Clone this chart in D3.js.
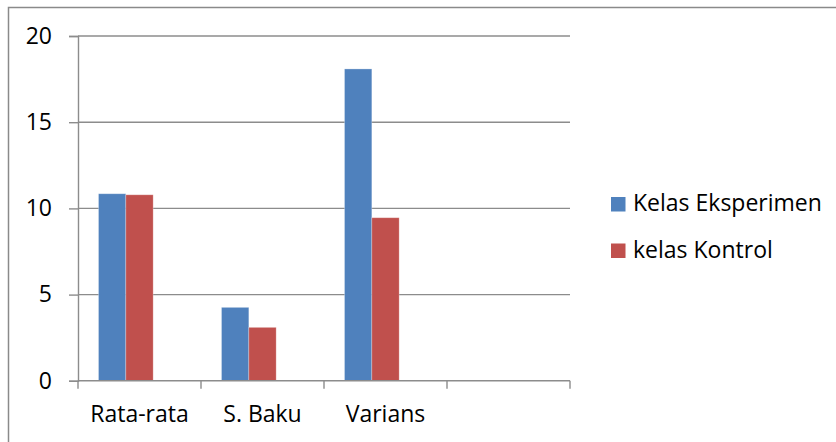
<!DOCTYPE html>
<html>
<head>
<meta charset="utf-8">
<script src="https://cdn.jsdelivr.net/npm/d3@7"></script>
<style>
  html, body { margin: 0; padding: 0; background: #fff; }
  svg text { font-family: "Open Sans", Lato, sans-serif; fill: #000; }
</style>
</head>
<body>
<svg id="chart" width="836" height="442"></svg>
<script>
// Category labels along the x axis (the fourth slot is left blank)
const categories = ["Rata-rata", "S. Baku", "Varians", ""];
// Series names as shown in the legend
const seriesNames = ["Kelas Eksperimen", "kelas Kontrol"];
// Values per category, one array per series
const eksperimen = [10.85, 4.26, 18.09, null];
const kontrol    = [10.79, 3.10, 9.46, null];
// Y axis tick values
const yTicks = [0, 5, 10, 15, 20];

const colors = ["#4F81BD", "#C0504D"];
const seriesValues = [eksperimen, kontrol];
const fontSize = 23;

const svg = d3.select("#chart");

// Outer chart frame
svg.append("rect")
  .attr("x", 8.5).attr("y", 7.5)
  .attr("width", 840).attr("height", 450)
  .attr("fill", "none").attr("stroke", "#8a8a8a").attr("stroke-width", 1.5);

const plot = { left: 78, right: 570, top: 36, bottom: 380.8 };

const x0 = d3.scaleBand()
  .domain(categories.map((c, i) => i))
  .range([plot.left, plot.right])
  .padding(0);

// Three slots per category; the last one stays empty
const slots = [0, 1, 2];
const x1 = d3.scaleBand()
  .domain(slots)
  .range([0, x0.bandwidth()])
  .paddingInner(0)
  .paddingOuter(0.75);

const y = d3.scaleLinear().domain([0, 20]).range([plot.bottom, plot.top]);

// Horizontal gridlines
svg.append("g")
  .selectAll("line")
  .data(yTicks.filter(t => t > 0))
  .join("line")
  .attr("x1", plot.left).attr("x2", plot.right)
  .attr("y1", d => y(d)).attr("y2", d => y(d))
  .attr("stroke", "#8c8c8c").attr("stroke-width", 1.4);

// Y axis
const yAxis = svg.append("g")
  .attr("transform", `translate(${plot.left},0)`)
  .call(d3.axisLeft(y).tickValues(yTicks).tickSize(9).tickPadding(17).tickFormat(d3.format("d")));
yAxis.select(".domain").attr("stroke", "#8c8c8c").attr("stroke-width", 1.4);
yAxis.selectAll(".tick line").attr("stroke", "#8c8c8c").attr("stroke-width", 1.4);
yAxis.selectAll(".tick text")
  .attr("font-size", fontSize)
  .attr("font-family", "'Open Sans', Lato, sans-serif")
  .attr("fill", "#000");

// Bars
const groups = svg.append("g")
  .selectAll("g")
  .data(categories.map((c, i) => i))
  .join("g")
  .attr("transform", i => `translate(${x0(i)},0)`);

groups.selectAll("rect")
  .data(i => seriesValues.map((vals, s) => ({ s, v: vals[i] })).filter(d => d.v != null))
  .join("rect")
  .attr("x", d => x1(d.s))
  .attr("width", x1.bandwidth())
  .attr("y", d => y(d.v))
  .attr("height", d => y(0) - y(d.v))
  .attr("fill", d => colors[d.s])
  .attr("stroke", "rgba(255,255,255,0.35)")
  .attr("stroke-width", 0.8);

// X axis with boundary tick marks between categories
const xAxisG = svg.append("g").attr("transform", `translate(0,${plot.bottom})`);
xAxisG.append("line")
  .attr("x1", plot.left).attr("x2", plot.right)
  .attr("stroke", "#8c8c8c").attr("stroke-width", 1.4);
const boundaries = d3.range(categories.length + 1).map(i => plot.left + i * x0.step());
xAxisG.selectAll("line.tk")
  .data(boundaries)
  .join("line").attr("class", "tk")
  .attr("x1", d => d).attr("x2", d => d)
  .attr("y1", 0).attr("y2", 8)
  .attr("stroke", "#8c8c8c").attr("stroke-width", 1.4);
xAxisG.selectAll("text")
  .data(categories.map((c, i) => ({ c, i })))
  .join("text")
  .attr("x", d => x0(d.i) + x0.bandwidth() / 2)
  .attr("y", 41)
  .attr("text-anchor", "middle")
  .attr("font-size", fontSize)
  .text(d => d.c);

// Legend
const legend = svg.append("g").attr("transform", "translate(611,197)");
const items = legend.selectAll("g")
  .data(seriesNames.map((n, i) => ({ n, i })))
  .join("g")
  .attr("transform", d => `translate(0,${d.i * 46.5})`);
items.append("rect")
  .attr("width", 14.5).attr("height", 14.5)
  .attr("fill", d => colors[d.i]);
items.append("text")
  .attr("x", 22).attr("y", 14)
  .attr("font-size", fontSize)
  .text(d => d.n);
</script>
</body>
</html>
